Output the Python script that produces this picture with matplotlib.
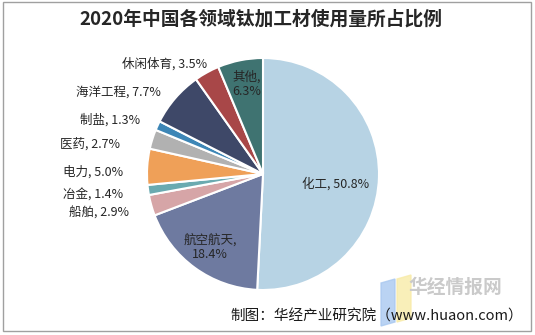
import matplotlib
matplotlib.use("Agg")
import matplotlib.pyplot as plt
from matplotlib.patches import Rectangle, Polygon

plt.rcParams["font.family"] = ["Noto Sans CJK SC", "DejaVu Sans"]

# 各领域占比（%），从正上方顺时针
sectors = ["化工", "航空航天", "船舶", "冶金", "电力", "医药", "制盐", "海洋工程", "休闲体育", "其他"]
shares = [50.8, 18.4, 2.9, 1.4, 5.0, 2.7, 1.3, 7.7, 3.5, 6.3]
colors = ["#B7D3E4", "#6E7AA0", "#D6A5A7", "#6AAAB0", "#EFA058", "#B1B1B1",
          "#3D86B6", "#3E4868", "#A84748", "#3F7371"]

W, H = 535, 335
fig = plt.figure(figsize=(W / 100, H / 100), dpi=100)

# 饼图圆心 (263, 174) 像素，半径 116 像素
cx, cy, r = 263, 174, 116
ax = fig.add_axes([(cx - r) / W, (H - cy - r) / H, 2 * r / W, 2 * r / H])
ax.pie(shares, colors=colors, startangle=90, counterclock=False,
       wedgeprops={"edgecolor": "white", "linewidth": 1.5})
ax.set_xlim(-1, 1)
ax.set_ylim(-1, 1)
ax.set_aspect("equal")
ax.axis("off")


def px(x, y):
    return x / W, 1 - y / H


labels = [f"{s}, {v:.1f}%" for s, v in zip(sectors, shares)]
txt = "#262626"

# 扇区内标签
fig.text(*px(336, 184), labels[0], ha="center", va="center", fontsize=9, color=txt)
fig.text(*px(210, 247), f"{sectors[1]},\n{shares[1]:.1f}%", ha="center", va="center",
         fontsize=9, color=txt, linespacing=1.1, multialignment="center")
fig.text(*px(247, 84), f"{sectors[9]},\n{shares[9]:.1f}%", ha="center", va="center",
         fontsize=9, color=txt, linespacing=1.1, multialignment="left")

# 外侧标签（右对齐）
outside = {2: (129, 213), 3: (123, 195), 4: (123, 172), 5: (120, 144),
           6: (140, 120), 7: (161, 92), 8: (207, 64)}
for i, (x, y) in outside.items():
    fig.text(*px(x, y), labels[i], ha="right", va="center", fontsize=9, color=txt)

fig.text(*px(261, 19), "2020年中国各领域钛加工材使用量所占比例", ha="center", va="center",
         fontsize=13.5, fontweight="bold", color="#262626")

# 水印
fig.patches.append(Polygon([px(381, 283), px(395, 279), px(395, 322), px(381, 326)],
                           closed=True, transform=fig.transFigure, color="#A9C8F0", alpha=0.8))
fig.patches.append(Polygon([px(397, 279), px(411, 275), px(411, 318), px(397, 322)],
                           closed=True, transform=fig.transFigure, color="#F8EBA8", alpha=0.8))
fig.text(*px(455, 287), "华经情报网", ha="center", va="center", fontsize=13.5,
         fontweight="bold", color="#CACACA")

fig.text(*px(377, 316), "制图：华经产业研究院（www.huaon.com）", ha="center", va="center",
         fontsize=10.5, color="#1A1A1A")

fig.patches.append(Rectangle(px(3, 331), 528 / W, 329 / H, transform=fig.transFigure,
                             fill=False, edgecolor="#A0A0A0", linewidth=1))

fig.savefig("out.png", dpi=100)
